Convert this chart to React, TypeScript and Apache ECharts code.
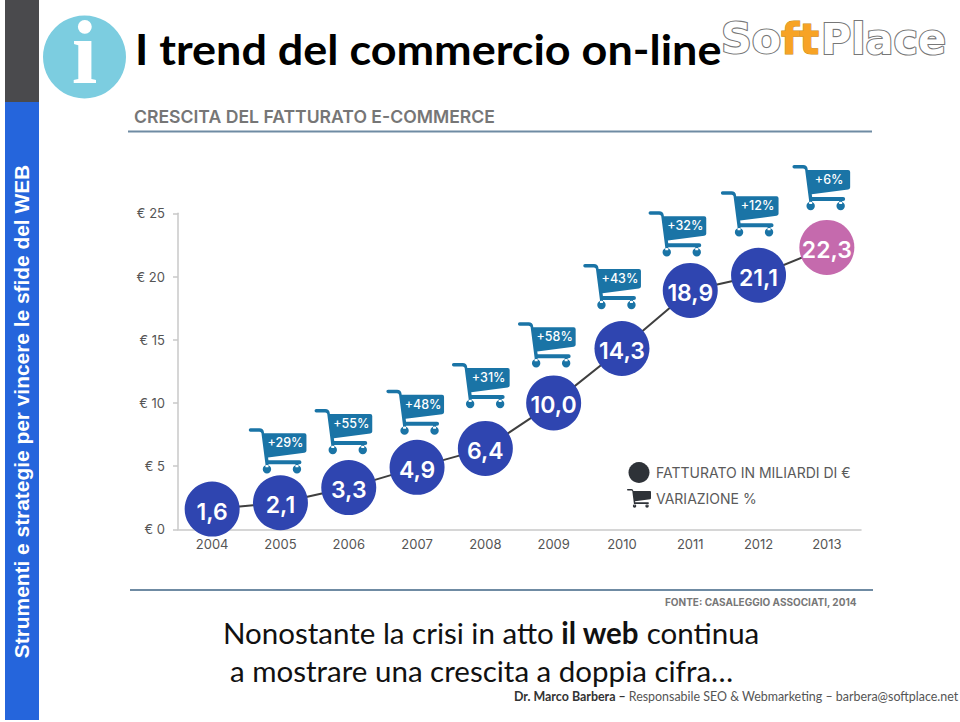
import React, { useEffect, useRef } from "react";
import * as echarts from "echarts";

const categories = ["2004","2005","2006","2007","2008","2009","2010","2011","2012","2013"];
// Heights at which the circles are drawn in the picture (2012 sits lower than its printed label)
const plottedValues = [1.6, 2.1, 3.3, 4.9, 6.4, 10.0, 14.3, 18.9, 20.1, 22.3];
const valueLabels = ["1,6","2,1","3,3","4,9","6,4","10,0","14,3","18,9","21,1","22,3"];
const cartYears = ["2005","2006","2007","2008","2009","2010","2011","2012","2013"];
const cartLabels = ["+29%","+55%","+48%","+31%","+58%","+43%","+32%","+12%","+6%"];
const cartHeights = [7.91, 9.44, 10.97, 13.08, 16.3, 20.91, 25.08, 26.66, 28.74];
const cartNudge = [-30, -32.5, -29, -31.7, -34, -37, -40, -36, -32.7];

const SERIES_REVENUE = "FATTURATO IN MILIARDI DI €";
const SERIES_CHANGE = "VARIAZIONE %";
const SIDEBAR_TEXT = "Strumenti e strategie per vincere le sfide del WEB";
const MAIN_TITLE = "I trend del commercio on-line";
const CHART_TITLE = "CRESCITA DEL FATTURATO E-COMMERCE";
const SOURCE = "FONTE: CASALEGGIO ASSOCIATI, 2014";

const CART_D =
  "M0 -1H9Q13 -1 13.5 3L13.6 4H54Q56 4 56 6V21.5Q56 23 54 23.5L17.6 28.2L18 31H49Q51 31 51 33Q51 35 49 35H15L11 4Q10.8 2.5 9 2.5H0Q-1.7 2.5 -1.7 0.7Q-1.7 -1 0 -1Z" +
  "M16.5 35.8A4.2 4.2 0 1 0 16.5 44.2A4.2 4.2 0 1 0 16.5 35.8Z" +
  "M46.5 35.8A4.2 4.2 0 1 0 46.5 44.2A4.2 4.2 0 1 0 46.5 35.8Z" +
  "M15 34H18V38H15Z" +
  "M45 34H48V38H45Z";
echarts.graphic.registerShape("cart", echarts.graphic.extendPath(CART_D as any, {} as any) as any);

export default function App() {
  const ref = useRef<HTMLDivElement>(null);
  useEffect(() => {
    const chart = echarts.init(ref.current!, null, { renderer: "svg" });
    const geo = "Inter, sans-serif";
    const body = "Lato, sans-serif";
    chart.setOption({
      animation: false,
      backgroundColor: "#ffffff",
      title: [
        {
          text: CHART_TITLE,
          left: 129,
          top: 102,
          textStyle: { fontFamily: geo, fontSize: 17.6, fontWeight: 600, color: "#767676" },
        },
        {
          text: SOURCE,
          left: 660,
          top: 592,
          textStyle: { fontFamily: geo, fontSize: 10, fontWeight: 700, color: "#777777" },
        },
      ],
      grid: { left: 178, top: 213.3, width: 683, height: 316, containLabel: false },
      xAxis: {
        type: "category",
        data: categories,
        boundaryGap: true,
        axisLine: { lineStyle: { color: "#c9c9c9", width: 1.5 } },
        axisTick: { length: 5, lineStyle: { color: "#c9c9c9", width: 1.5 } },
        axisLabel: { fontFamily: geo, fontSize: 13, color: "#555555", margin: 8 },
      },
      yAxis: {
        type: "value",
        min: 0,
        max: 25,
        interval: 5,
        splitLine: { show: false },
        axisLine: { show: true, lineStyle: { color: "#c9c9c9", width: 1.5 } },
        axisTick: { show: true, length: 5, lineStyle: { color: "#c9c9c9", width: 1.5 } },
        axisLabel: { fontFamily: geo, fontSize: 13, color: "#555555", margin: 13, formatter: "€ {value}" },
      },
      legend: {
        orient: "vertical",
        left: 622,
        top: 457,
        itemWidth: 24,
        itemHeight: 21,
        itemGap: 6,
        selectedMode: false,
        textStyle: { fontFamily: geo, fontSize: 14, fontWeight: 400, color: "#5a5a5a" },
        data: [
          { name: SERIES_REVENUE, icon: "circle", itemStyle: { color: "#2e3238" } },
          { name: SERIES_CHANGE, icon: "path://" + CART_D, itemStyle: { color: "#2e3238" } },
        ],
      },
      series: [
        {
          name: SERIES_REVENUE,
          type: "line",
          data: plottedValues.map((v, i) => ({
            value: v,
            itemStyle: { color: i === plottedValues.length - 1 ? "#c56aad" : "#2f45b0" },
          })),
          symbol: "circle",
          symbolSize: 55,
          showAllSymbol: true,
          clip: false,
          lineStyle: { color: "#3f3f3f", width: 2 },
          label: {
            show: true,
            position: "inside",
            offset: [0, 2.5],
            formatter: (p: any) => valueLabels[p.dataIndex],
            color: "#ffffff",
            fontFamily: geo,
            fontSize: 23,
            fontWeight: 600,
          },
          emphasis: { disabled: true },
          z: 3,
        },
        {
          name: SERIES_CHANGE,
          type: "custom",
          data: cartYears.map((y, i) => [y, cartHeights[i]]),
          encode: { x: 0, y: 1 },
          clip: false,
          itemStyle: { color: "#1a74a6" },
          renderItem: (params: any, api: any) => {
            const i = params.dataIndex;
            const p = api.coord([api.value(0), api.value(1)]);
            return {
              type: "group",
              x: p[0] + cartNudge[i],
              y: p[1],
              children: [
                { type: "cart", style: { fill: "#1a74a6" } },
                {
                  type: "text",
                  x: 35,
                  y: 13.5,
                  style: {
                    text: cartLabels[i],
                    fill: "#ffffff",
                    font: `500 12.5px ${geo}`,
                    textAlign: "center",
                    textVerticalAlign: "middle",
                  },
                },
              ],
            };
          },
          z: 4,
        },
      ],
      graphic: [
        { type: "rect", shape: { x: 5, y: 0, width: 34, height: 102 }, style: { fill: "#4a4a4d" } },
        { type: "rect", shape: { x: 5, y: 102, width: 34, height: 618 }, style: { fill: "#2565dc" } },
        {
          type: "text",
          x: 21,
          y: 411.5,
          rotation: Math.PI / 2,
          style: {
            text: SIDEBAR_TEXT,
            fill: "#ffffff",
            font: "bold 20.9px 'Liberation Sans', Arial, sans-serif",
            textAlign: "center",
            textVerticalAlign: "middle",
          },
        },
        { type: "circle", shape: { cx: 84.5, cy: 57, r: 41.5 }, style: { fill: "#7ccde0" } },
        {
          type: "text",
          x: 84.5,
          y: 52,
          style: {
            text: "i",
            fill: "#ffffff",
            font: "bold 92px 'Liberation Serif', serif",
            textAlign: "center",
            textVerticalAlign: "middle",
          },
        },
        {
          type: "text",
          x: 135,
          y: 49,
          scaleX: 1.07,
          style: {
            text: MAIN_TITLE,
            fill: "#000000",
            font: `bold 42px ${body}`,
            textAlign: "left",
            textVerticalAlign: "middle",
          },
        },
        {
          type: "text",
          x: 721,
          y: 39,
          scaleX: 1.02,
          style: { text: "So", fill: "#ffffff", stroke: "#777777", lineWidth: 2.2, font: "bold 42px 'DejaVu Sans', sans-serif", textAlign: "left", textVerticalAlign: "middle" },
        },
        {
          type: "text",
          x: 781,
          y: 39,
          style: { text: "ft", fill: "#f7a325", stroke: "#c98a20", lineWidth: 1, font: "bold 42px 'DejaVu Sans', sans-serif", textAlign: "left", textVerticalAlign: "middle" },
        },
        {
          type: "text",
          x: 821,
          y: 39,
          scaleX: 0.985,
          style: { text: "Place", fill: "#ffffff", stroke: "#777777", lineWidth: 2.2, font: "bold 42px 'DejaVu Sans', sans-serif", textAlign: "left", textVerticalAlign: "middle" },
        },
        { type: "line", shape: { x1: 128, y1: 131.5, x2: 872, y2: 131.5 }, style: { stroke: "#6f8ba3", lineWidth: 2 } },
        { type: "line", shape: { x1: 130, y1: 590, x2: 873, y2: 590 }, style: { stroke: "#6f8ba3", lineWidth: 2 } },
        {
          type: "text",
          x: 223,
          y: 632,
          style: {
            text: "{r|Nonostante la crisi in atto }{b|il web}{r| continua}",
            textVerticalAlign: "middle",
            rich: {
              r: { font: `400 29.5px ${body}`, fill: "#111111" },
              b: { font: `700 29.5px ${body}`, fill: "#111111" },
            },
          },
        },
        {
          type: "text",
          x: 230,
          y: 670,
          style: {
            text: "a mostrare una crescita a doppia cifra…",
            font: `400 29.5px ${body}`,
            fill: "#111111",
            textVerticalAlign: "middle",
          },
        },
        {
          type: "text",
          x: 514,
          y: 696,
          style: {
            text: "{b|Dr. Marco Barbera – }{r|Responsabile SEO & Webmarketing – barbera@softplace.net}",
            textVerticalAlign: "middle",
            rich: {
              r: { font: `400 12.45px ${body}`, fill: "#555555" },
              b: { font: `700 12.45px ${body}`, fill: "#333333" },
            },
          },
        },
      ],
    });
    return () => chart.dispose();
  }, []);
  return <div ref={ref} style={{ position: "absolute", left: 0, top: 0, width: 960, height: 722 }} />;
}
